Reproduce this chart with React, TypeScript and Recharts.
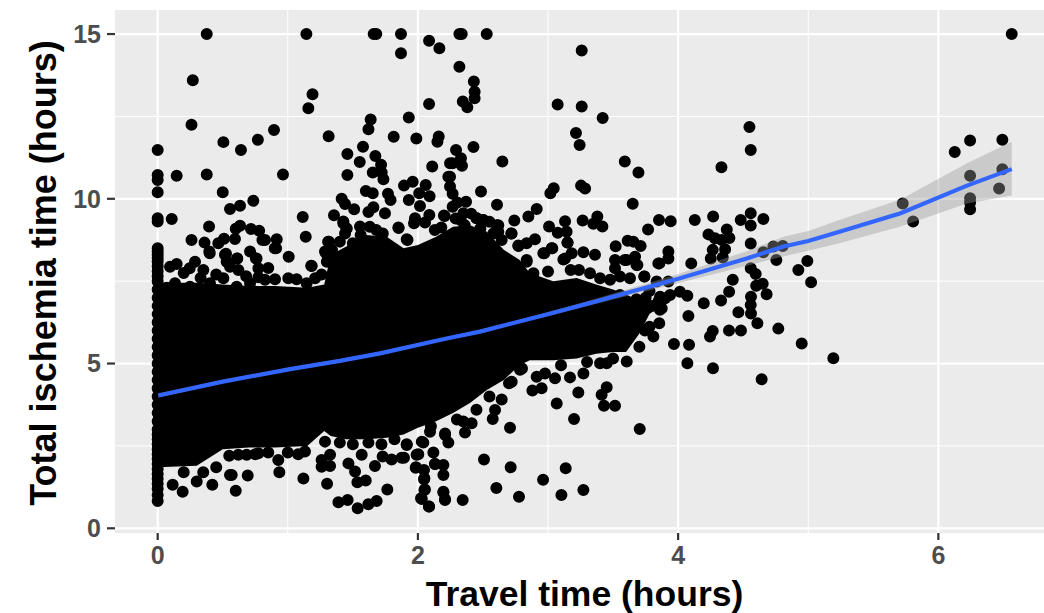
import React from "react";
import { ComposedChart, CartesianGrid, XAxis, YAxis, ZAxis, Area, Line, Scatter } from "recharts";

const xTicks = [0, 2, 4, 6];
const yTicks = [0, 5, 10, 15];
const xMinor = [1, 3, 5];
const yMinor = [2.5, 7.5, 12.5];

// Solid core of the point cloud: [travel, low, high]
const cloudCore: [number, number, number][] = [
  [0, 1.85, 7.45], [0.3, 1.9, 7.45], [0.5, 2.4, 7.4], [0.7, 2.45, 7.35], [0.9, 2.45, 7.35], [1.15, 2.5, 7.3],
  [1.28, 2.95, 7.4], [1.33, 2.8, 8.3], [1.45, 2.7, 8.55], [1.6, 2.7, 8.9], [1.76, 2.75, 8.85], [1.89, 2.85, 8.5],
  [2.0, 3.05, 8.6], [2.14, 3.25, 8.85], [2.27, 3.5, 9.15], [2.4, 3.8, 9.2], [2.53, 4.2, 9.0], [2.66, 4.5, 8.45],
  [2.78, 4.95, 8.15], [2.86, 5.1, 7.75], [3.04, 5.1, 7.5], [3.22, 5.15, 7.6], [3.37, 5.3, 7.4], [3.5, 5.35, 7.25],
  [3.6, 5.35, 7.1], [3.7, 5.9, 6.9], [3.78, 6.5, 6.8], [3.85, 6.7, 6.72],
];

const zeroTravelTimes = [0.83, 1.01, 1.2, 1.35, 1.5, 1.65, 1.8, 1.95, 2.1, 2.25, 2.4, 2.55, 2.7, 2.85, 3, 3.25, 3.5, 3.75, 4, 4.25, 4.5, 4.75, 5, 5.25, 5.5, 5.75, 6, 6.25, 6.5, 6.75, 7, 7.25, 7.5, 7.65, 7.8, 7.95, 8.1, 8.2, 8.3, 8.4, 8.5, 9.31, 9.41, 10.2, 10.57, 10.72, 11.48];

const upperLeft: [number, number][] = [
  [0.377, 15], [1.143, 15], [1.66, 15], [1.68, 15], [1.87, 15], [2.086, 14.8], [2.165, 14.57], [1.87, 14.42],
  [0.27, 13.6], [1.19, 13.17], [1.158, 12.75], [2.086, 12.88], [1.93, 12.47], [1.637, 12.41], [1.62, 12.11],
  [0.26, 12.25], [0.894, 12.09], [0.77, 11.79], [0.505, 11.72], [0.64, 11.48], [1.314, 11.9], [1.578, 11.58],
  [1.814, 11.88], [1.988, 11.83], [2.16, 11.89], [2.15, 11.73], [1.458, 11.36], [1.673, 11.3], [1.553, 11.12],
  [1.717, 11.03], [2.11, 10.98], [0.146, 10.7], [0.377, 10.74], [0.963, 10.74], [1.458, 10.72], [1.653, 10.8],
  [1.722, 10.8], [1.735, 10.59], [0.5, 10.2], [1.893, 10.4], [1.96, 10.52], [2.06, 10.42], [1.6, 10.24],
  [1.653, 10.17], [1.77, 10.15], [2.234, 10.67], [2.247, 11.08], [0.735, 9.94], [1.414, 10], [1.44, 9.84],
  [0.633, 9.79], [0.556, 9.69], [1.51, 9.68], [1.658, 9.74], [1.62, 9.6], [1.79, 9.96], [1.93, 9.96],
  [2.01, 10.17], [2.09, 10.08], [2.016, 9.78], [0.108, 9.39], [1.115, 9.45], [1.355, 9.5], [1.747, 9.56],
  [1.978, 9.41], [1.97, 9.26], [2.088, 9.51], [2.206, 9.48], [0.395, 9.16], [1.427, 9.31], [1.453, 9.1],
  [0.633, 9.18], [0.6, 9.09], [0.717, 9.08], [0.78, 9.03], [1.138, 8.85], [1.852, 9.11], [0.26, 8.75],
  [0.36, 8.67], [0.594, 8.78], [0.51, 8.79], [0.466, 8.65], [0.915, 8.77], [0.805, 8.75], [1.317, 8.7],
  [1.44, 8.95], [1.555, 9.16], [0.71, 8.4], [0.9, 8.5], [0.4, 8.35], [0.525, 8.33], [0.61, 8.19], [0.755, 8.19],
  [1.007, 8.24], [1.18, 7.97], [1.294, 8.35], [1.914, 8.77],
];

const leftRim: [number, number][] = [
  [0.095, 7.94], [0.146, 8.02], [0.287, 8.09], [0.246, 7.89], [0.133, 7.44], [0.248, 7.33], [0.351, 7.84],
  [0.397, 8.4], [0.517, 8.3], [0.53, 8.09], [0.612, 8.19], [0.62, 7.84], [0.76, 8.19], [0.774, 7.89], [0.774, 7.62],
  [0.825, 7.54], [0.902, 7.56], [1.004, 7.59], [1.068, 7.56], [1.145, 7.44], [1.21, 7.59], [1.184, 7.96], [0.91, 8.5],
  [0.825, 8.75], [0.556, 7.94], [0.505, 7.59], [0.402, 7.44], [0.607, 7.33], [0.71, 7.44], [0.07, 7.3], [0.18, 7.2],
  [1.31, 8.7], [1.286, 8.4], [1.3, 8.09], [1.427, 9.26], [1.45, 9.1], [1.5, 8.65], [1.63, 9.15], [1.73, 8.95],
  [0.2, 7.75], [0.33, 7.6], [0.45, 7.7], [0.68, 7.65], [0.85, 7.9], [1.26, 7.7], [1.34, 8.45], [1.4, 8.7],
  [1.56, 8.9], [1.68, 9.05],
];

const lowerRim: [number, number][] = [
  [0.2, 1.7], [0.35, 1.7], [0.45, 1.85], [0.55, 2.2], [0.75, 2.25], [0.85, 2.3], [1.0, 2.3], [1.08, 2.25],
  [1.4, 2.6], [1.5, 2.55], [1.62, 2.6], [1.72, 2.55], [1.82, 2.7], [2.1, 3.1], [2.3, 3.3], [2.45, 3.6], [2.55, 4],
  [2.7, 4.4], [2.8, 4.85], [3.1, 4.95], [3.3, 5.05], [3.5, 5.15],
];

const upperMiddle: [number, number][] = [
  [2.319, 15], [2.337, 15], [2.529, 15], [3.259, 14.5], [2.319, 14.01], [2.43, 13.56], [2.436, 13.25], [2.436, 13.05],
  [2.345, 12.95], [2.38, 12.78], [3.074, 12.86], [3.259, 12.8], [3.42, 12.45], [3.215, 12], [3.243, 11.63],
  [2.427, 11.57], [2.293, 11.48], [2.649, 11.13], [2.331, 11.23], [2.267, 11.08], [2.339, 11], [3.59, 11.13],
  [3.695, 10.8], [2.247, 10.67], [2.247, 10.37], [2.267, 10.15], [2.485, 10.22], [3.044, 10.32], [3.018, 10.17],
  [3.254, 10.4], [3.285, 10.31], [2.37, 9.91], [2.303, 9.89], [2.267, 9.76], [2.608, 9.82], [3.651, 9.85],
  [2.913, 9.69], [2.849, 9.46], [2.741, 9.34], [2.35, 9.56], [2.452, 9.41], [2.5, 9.36], [2.618, 9.2], [3.131, 9.32],
  [3.008, 9.16], [3.075, 8.97], [3.143, 9], [3.266, 9.34], [3.379, 9.46], [3.348, 9.24], [3.418, 9.16], [3.853, 9.36],
  [3.943, 9.32], [3.769, 9.07], [4.128, 9.36], [4.269, 9.46], [2.718, 8.95], [2.9, 8.77], [2.836, 8.65], [2.772, 8.58],
  [3.151, 8.67], [3.033, 8.5], [2.972, 8.35], [3.272, 8.38], [3.361, 8.3], [3.182, 8.35], [3.118, 8.16], [2.836, 8.09],
  [3.52, 8.56], [3.612, 8.73], [3.656, 8.7], [3.712, 8.57], [3.925, 8.4], [3.925, 8.19], [3.848, 8.04], [3.669, 8.24],
  [3.604, 8.14], [3.515, 8.14], [3.687, 7.99], [4.101, 8.04], [4.233, 8.92], [4.283, 8.8], [4.335, 8.75], [4.374, 9.07],
  [4.394, 8.81], [4.361, 8.47], [4.266, 8.45], [4.343, 8.22], [4.251, 8.19], [4.481, 9.36],
];

const middleRim: [number, number][] = [
  [1.85, 9.13], [1.92, 8.75], [1.977, 9.36], [2.055, 9.28], [2.2, 9.49], [2.18, 9.13], [2.45, 9.41], [2.503, 9.36],
  [2.606, 9.2], [2.618, 9], [2.72, 8.95], [2.644, 8.75], [2.773, 8.57], [2.836, 8.14], [2.964, 8.35], [3.028, 8.5],
  [3.149, 8.67], [3.131, 8.19], [3.174, 7.84], [3.238, 7.84], [3.323, 7.74], [3, 7.79], [2.888, 7.74], [2.733, 7.94],
  [3.515, 7.89], [3.59, 8.14], [3.68, 7.99], [3.856, 8.04], [3.4, 7.59], [3.477, 7.54], [3.553, 7.64], [3.63, 7.59],
  [3.74, 7.64], [3.835, 7.49], [3.925, 7.49], [3.861, 7.03], [3.938, 7.08], [3.874, 6.68], [3.669, 6.78], [3.553, 7.08],
  [3.45, 6.93], [3.72, 6.52], [3.75, 7], [3.72, 6.75], [3.68, 6.95], [3.8, 6.75], [3.85, 6.9], [3.78, 7.2],
  [2.29, 9.4], [2.36, 9.2], [2.48, 9.1], [2.55, 9.3], [2.41, 9.55], [2.33, 9.35], [2.13, 9.05], [2.58, 8.95],
];

const upperRight: [number, number][] = [
  [6.564, 15], [4.548, 12.18], [4.558, 11.48], [4.333, 10.96], [6.244, 11.77], [6.492, 11.79], [6.126, 11.42],
  [6.244, 10.7], [6.492, 10.9], [6.467, 10.31], [6.244, 10.02], [6.244, 9.89], [6.244, 9.68], [5.726, 9.86],
  [5.806, 9.31], [4.558, 9.56], [4.558, 9.19], [4.655, 9.39], [4.558, 8.64], [4.993, 8.11], [4.924, 7.84],
  [4.655, 8.38], [4.732, 8.55], [4.804, 8.57], [4.755, 8.14], [4.558, 7.89],
];

const lowerRight: [number, number][] = [
  [3.741, 7.64], [4.42, 7.54], [4.596, 7.72], [4.6, 7.36], [4.65, 7.42], [5.022, 7.47], [4.392, 7.18], [4.56, 7.03],
  [4.558, 6.78], [4.56, 6.52], [4.68, 7.1], [4.33, 6.91], [4.197, 6.83], [4.071, 7.06], [4.014, 7.18], [4.463, 6.56],
  [4.079, 6.44], [4.609, 6.22], [4.77, 6.06], [4.266, 5.99], [4.245, 5.82], [4.391, 6], [4.483, 6], [4.95, 5.61],
  [3.968, 5.59], [4.084, 5.57], [5.193, 5.16], [4.071, 5.01], [4.268, 4.86], [4.642, 4.52], [3.9, 6.98], [3.86, 6.63],
  [3.855, 6.22], [3.78, 6.12], [3.745, 6], [3.81, 5.82], [3.702, 5.51], [3.656, 6.42], [3.605, 5.06], [3.451, 5.01],
  [3.4, 5.01], [3.451, 4.28], [3.412, 4.05], [3.43, 3.72], [3.515, 3.72], [3.233, 4.12], [3.067, 3.79], [3.2, 3.32],
  [3.705, 3.01], [3.272, 4.7], [3.169, 4.58], [3.054, 4.55], [2.977, 4.7], [2.913, 4.6], [2.951, 4.25], [2.88, 4.18],
  [2.785, 4.81], [2.721, 4.45], [2.644, 3.91], [2.593, 3.59], [2.575, 3.32], [2.708, 3.05], [2.413, 3.19], [2.362, 2.91],
  [2.349, 3.24], [2.209, 2.88], [2.234, 2.6], [2.093, 2.93], [2.042, 2.6], [1.914, 2.55], [2.119, 2.3], [2.003, 2.25],
  [1.893, 2.14], [2.131, 1.95], [2.196, 1.92], [1.983, 1.84], [2.047, 1.77], [2.196, 1.62], [2.047, 1.49], [2.054, 1.18],
  [2.196, 1.11], [2.208, 0.86], [2.024, 0.91], [2.085, 0.66], [2.344, 0.86], [2.508, 2.09], [2.713, 1.85], [3.136, 1.82],
  [2.603, 1.22], [2.962, 1.47], [2.777, 0.96], [3.103, 1.01], [3.272, 1.16],
];

const lowerLeft: [number, number][] = [
  [0.115, 1.32], [0.192, 1.11], [0.3, 1.42], [0.42, 1.32], [0.569, 1.62], [0.6, 1.14], [0.692, 1.6], [0.935, 1.7],
  [1.12, 1.51], [1.302, 1.35], [1.389, 0.79], [1.46, 0.86], [1.537, 0.61], [1.619, 0.73], [1.683, 0.83], [1.765, 1.18],
  [1.535, 1.4], [1.599, 1.45], [1.517, 1.72], [1.67, 1.89], [1.729, 2.18], [1.875, 2.14], [1.798, 2.09], [1.99, 2.23],
  [1.986, 1.85], [2.05, 1.52], [2.05, 1.16], [2.03, 0.89], [2.086, 0.66], [2.132, 1.95],
  [2.196, 1.09], [2.209, 0.88], [1.26, 2.07], [1.26, 1.87], [1.325, 2.23], [1.466, 1.97], [1.568, 2.23], [1.325, 1.89],
  [1.286, 2.63], [1.132, 2.33], [0.927, 2.07], [0.774, 2.28], [0.684, 2.23], [0.62, 2.23], [1.914, 2.53], [2.03, 2.63],
  [2.209, 2.83], [0.556, 1.62],
];

// Smooth fit: [travel, fit, ci low, ci high]
const smoothFit: [number, number, number, number][] = [
  [0.005, 4.03, 3.97, 4.1], [0.5, 4.45, 4.4, 4.5], [1.017, 4.83, 4.79, 4.87], [1.4, 5.08, 5.05, 5.11], [1.709, 5.31, 5.28, 5.34],
  [2.22, 5.76, 5.73, 5.79], [2.477, 5.97, 5.94, 6], [2.99, 6.49, 6.43, 6.55], [3.38, 6.9, 6.82, 6.98], [4.014, 7.59, 7.45, 7.73],
  [4.527, 8.19, 7.97, 8.41], [4.81, 8.55, 8.25, 8.85], [5, 8.72, 8.42, 9.02], [5.24, 9, 8.65, 9.36], [5.71, 9.56, 9.16, 9.98],
  [6.22, 10.4, 9.86, 11.08], [6.564, 10.9, 10.1, 11.73],
];

const scatterRows = [
  ...zeroTravelTimes.map((y) => ({ x: 0, y })),
  ...[...upperLeft, ...leftRim, ...lowerRim, ...upperMiddle, ...middleRim, ...upperRight, ...lowerRight, ...lowerLeft].map(([x, y]) => ({ x, y })),
];
const cloudRows = cloudCore.map(([x, low, high]) => ({ x, cloud: [low, high] }));
const fitRows = smoothFit.map(([x, fit, lo, hi]) => ({ x, fit, ci: [lo, hi] }));

const FONT = "'Liberation Sans', Arial, sans-serif";
const tickStyle = { fill: "#4D4D4D", fontSize: 25, fontWeight: 700, fontFamily: FONT };
const titleStyle = { fill: "#000", fontSize: 35.5, fontWeight: 700, fontFamily: FONT };

export default function App() {
  return (
    <div style={{ position: "absolute", left: 0, top: 0, width: 1044, height: 613, background: "#fff" }}>
      <ComposedChart width={1044} height={613} margin={{ top: 10, right: 0, bottom: 0, left: 0 }}>
        <CartesianGrid fill="#EBEBEB" stroke="#FFFFFF" strokeWidth={1} horizontalValues={yMinor} verticalValues={xMinor} />
        <CartesianGrid stroke="#FFFFFF" strokeWidth={2.2} horizontalValues={yTicks} verticalValues={xTicks} />
        <XAxis
          type="number"
          dataKey="x"
          domain={[-0.328, 6.812]}
          allowDataOverflow
          ticks={xTicks}
          height={80}
          axisLine={false}
          tickSize={7}
          tickLine={{ stroke: "#333333", strokeWidth: 2.2 }}
          tick={tickStyle}
          tickMargin={6}
          label={{ value: "Travel time (hours)", position: "insideBottom", offset: 7, dx: 5, style: titleStyle }}
        />
        <YAxis
          type="number"
          dataKey="y"
          domain={[-0.143, 15.73]}
          allowDataOverflow
          ticks={yTicks}
          width={115}
          axisLine={false}
          tickSize={8}
          tickLine={{ stroke: "#333333", strokeWidth: 2.2 }}
          tick={tickStyle}
          tickMargin={6}
          label={{ value: "Total ischemia time (hours)", angle: -90, position: "insideLeft", offset: 43, dy: 1.5, style: { ...titleStyle, fontSize: 36, textAnchor: "middle" } }}
        />
        <ZAxis range={[113, 113]} />
        <Area zIndex={100} data={cloudRows} dataKey="cloud" type="linear" fill="#000" fillOpacity={1} stroke="none" dot={false} activeDot={false} isAnimationActive={false} />
        <Scatter zIndex={200} data={scatterRows} dataKey="y" fill="#000" isAnimationActive={false} />
        <Area zIndex={300} data={fitRows} dataKey="ci" type="linear" fill="#999999" fillOpacity={0.4} stroke="none" dot={false} activeDot={false} isAnimationActive={false} />
        <Line zIndex={400} data={fitRows} dataKey="fit" type="linear" stroke="#3366FF" strokeWidth={4.2} dot={false} activeDot={false} isAnimationActive={false} />
      </ComposedChart>
    </div>
  );
}
